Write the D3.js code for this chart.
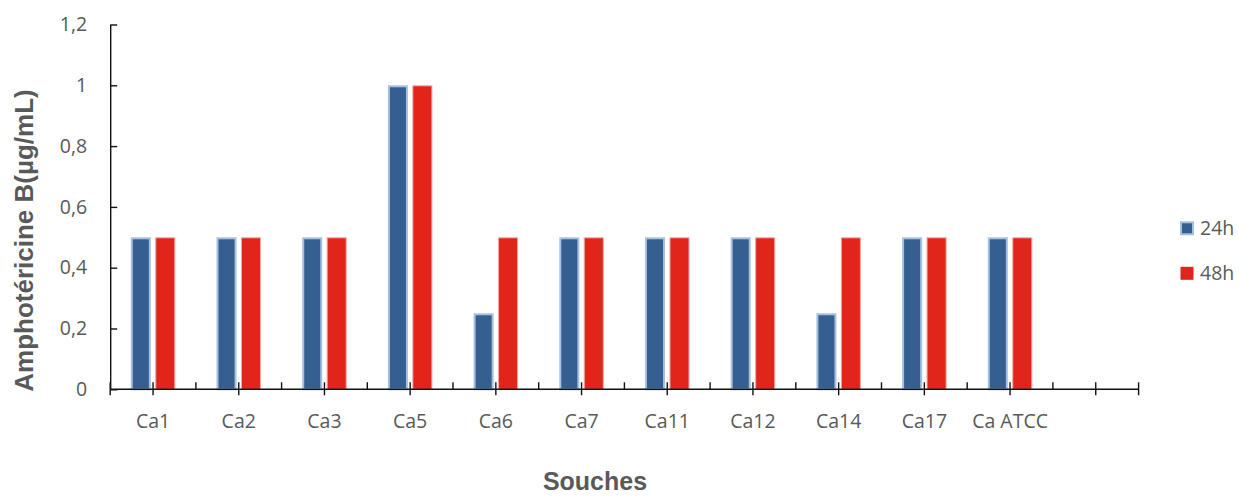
<!DOCTYPE html>
<html>
<head>
<meta charset="utf-8">
<script src="https://cdn.jsdelivr.net/npm/d3@7"></script>
<style>
  html, body { margin: 0; padding: 0; background: #fff; }
  svg { display: block; }
</style>
</head>
<body>
<svg id="chart" width="1239" height="497"></svg>
<script>
// Strains on the x axis (the last slot is an empty category)
const categories = ["Ca1", "Ca2", "Ca3", "Ca5", "Ca6", "Ca7", "Ca11", "Ca12", "Ca14", "Ca17", "Ca ATCC", ""];
// Series names
const series = ["24h", "48h"];
// Amphotericin B MIC values (µg/mL)
const values24h = [0.5, 0.5, 0.5, 1, 0.25, 0.5, 0.5, 0.5, 0.25, 0.5, 0.5];
const values48h = [0.5, 0.5, 0.5, 1, 0.5, 0.5, 0.5, 0.5, 0.5, 0.5, 0.5];
// Y axis ticks and labels
const yTicks = [0, 0.2, 0.4, 0.6, 0.8, 1, 1.2];
const yTickLabels = ["0", "0,2", "0,4", "0,6", "0,8", "1", "1,2"];

const svg = d3.select("#chart");
const textColor = "#595959";
const axisColor = "#111";
const font = "'Open Sans', sans-serif";
const titleFont = "'Liberation Sans', Arial, sans-serif";

const x = d3.scaleBand().domain(categories).range([110.2, 1138.6]).padding(0);
const y = d3.scaleLinear().domain([0, 1.2]).range([389.3, 24.5]);
const xSub = d3.scaleBand().domain(series).range([-22.25, 22.25]).paddingInner(0.18);

const colors = { "24h": "#365f91", "48h": "#e1251a" };
const strokes = { "24h": "#a6c0e0", "48h": "#f3aaa4" };
const strokeW = { "24h": 2, "48h": 1 };

const rows = [];
categories.forEach((c, i) => {
  if (values24h[i] !== undefined) rows.push({ cat: c, s: "24h", v: values24h[i] });
  if (values48h[i] !== undefined) rows.push({ cat: c, s: "48h", v: values48h[i] });
});

// Bars
svg.append("g").selectAll("rect").data(rows).join("rect")
  .attr("x", d => x(d.cat) + x.bandwidth() / 2 + xSub(d.s) + strokeW[d.s] / 2)
  .attr("width", d => xSub.bandwidth() - strokeW[d.s])
  .attr("y", d => y(d.v) + strokeW[d.s] / 2)
  .attr("height", d => y(0) - y(d.v) - strokeW[d.s] / 2)
  .attr("fill", d => colors[d.s])
  .attr("stroke", d => strokes[d.s])
  .attr("stroke-width", d => strokeW[d.s]);

// Y axis: ticks pointing inward
const yAxis = d3.axisLeft(y)
  .tickValues(yTicks)
  .tickFormat((d, i) => yTickLabels[i])
  .tickSizeInner(-7)
  .tickSizeOuter(0)
  .tickPadding(23);
const gy = svg.append("g").attr("transform", `translate(${x.range()[0]},0)`).call(yAxis);
gy.select(".domain").attr("stroke", axisColor).attr("stroke-width", 1.4);
gy.selectAll(".tick line").attr("stroke", axisColor).attr("stroke-width", 1.4);
gy.selectAll(".tick text")
  .attr("fill", textColor)
  .style("font-family", font)
  .style("font-size", "19.5px");

// X axis line
const gx = svg.append("g");
const y0 = y(0);
gx.append("line")
  .attr("x1", x.range()[0]).attr("x2", x.range()[1])
  .attr("y1", y0).attr("y2", y0)
  .attr("stroke", axisColor).attr("stroke-width", 1.4);

// Boundary ticks (upward), outer ends crossing
const bounds = categories.map(c => x(c)).concat([x.range()[1]]);
gx.selectAll("line.bound").data(bounds).join("line")
  .attr("class", "bound")
  .attr("x1", d => d).attr("x2", d => d)
  .attr("y1", y0 - 7)
  .attr("y2", (d, i) => (i === 0 || i === bounds.length - 1) ? y0 + 6 : y0)
  .attr("stroke", axisColor).attr("stroke-width", 1.4);

// Category centre ticks (crossing)
gx.selectAll("line.center").data(categories).join("line")
  .attr("class", "center")
  .attr("x1", d => x(d) + x.bandwidth() / 2).attr("x2", d => x(d) + x.bandwidth() / 2)
  .attr("y1", y0 - 7).attr("y2", y0 + 6)
  .attr("stroke", axisColor).attr("stroke-width", 1.4);

// Category labels
gx.selectAll("text").data(categories).join("text")
  .attr("x", d => x(d) + x.bandwidth() / 2)
  .attr("y", 428)
  .attr("text-anchor", "middle")
  .attr("fill", textColor)
  .style("font-family", font)
  .style("font-size", "19.5px")
  .text(d => d);

// Axis titles
svg.append("text")
  .attr("x", 595).attr("y", 490)
  .attr("text-anchor", "middle")
  .attr("fill", textColor)
  .style("font-family", titleFont)
  .style("font-weight", "bold")
  .style("font-size", "25px")
  .text("Souches");

svg.append("text")
  .attr("transform", `translate(33,${(88 + 393) / 2}) rotate(-90)`)
  .attr("text-anchor", "middle")
  .attr("fill", textColor)
  .style("font-family", titleFont)
  .style("font-weight", "bold")
  .style("font-size", "26px")
  .text("Amphotéricine B(µg/mL)");

// Legend
const legendY = { "24h": 228.3, "48h": 273.3 };
const lg = svg.append("g");
series.forEach(s => {
  lg.append("rect")
    .attr("x", 1180 + strokeW[s] / 2)
    .attr("y", legendY[s] - 7 + strokeW[s] / 2)
    .attr("width", 14 - strokeW[s])
    .attr("height", 14 - strokeW[s])
    .attr("fill", colors[s])
    .attr("stroke", s === "24h" ? strokes[s] : "none")
    .attr("stroke-width", strokeW[s]);
  lg.append("text")
    .attr("x", 1200)
    .attr("y", legendY[s] + 7)
    .attr("fill", textColor)
    .style("font-family", font)
    .style("font-size", "19.5px")
    .text(s);
});
</script>
</body>
</html>
